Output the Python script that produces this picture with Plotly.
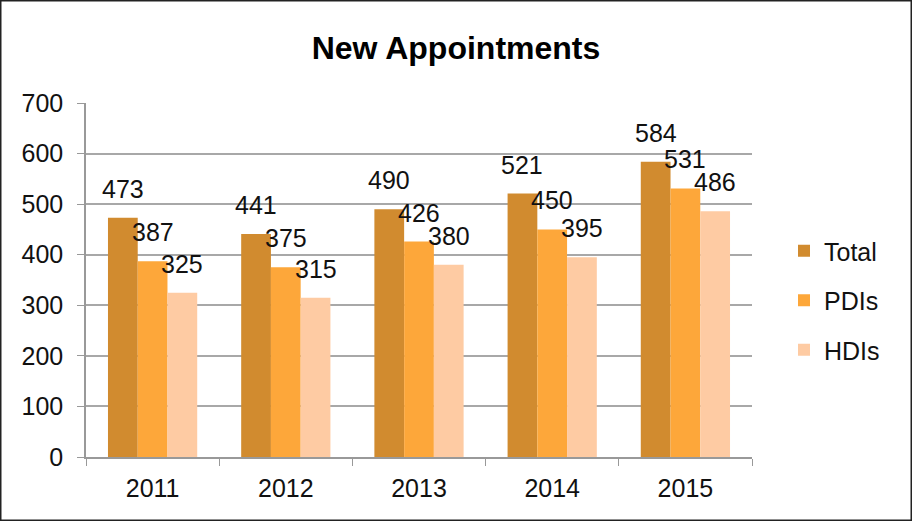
import plotly.graph_objects as go

years = ["2011", "2012", "2013", "2014", "2015"]
series_names = ["Total", "PDIs", "HDIs"]
total = [473, 441, 490, 521, 584]
pdis = [387, 375, 426, 450, 531]
hdis = [325, 315, 380, 395, 486]
colors = ["#D18B2F", "#FDA73A", "#FECBA3"]
y_ticks = [0, 100, 200, 300, 400, 500, 600, 700]

W, H = 912, 521
ml, mr, mt, mb = 86, 160, 103, 64
pw = W - ml - mr
ph = H - mt - mb
bargap = 0.33
bar_px = pw / len(years) * (1 - bargap) / len(series_names)

FONT = "Liberation Sans, Arial, Helvetica, sans-serif"

fig = go.Figure()
all_vals = [total, pdis, hdis]
for i, (name, vals, col) in enumerate(zip(series_names, all_vals, colors)):
    fig.add_trace(go.Bar(x=years, y=vals, name=name, marker=dict(color=col, line=dict(width=0)),
                         legendgroup=name))

annotations = []
for i, vals in enumerate(all_vals):
    for k, v in enumerate(vals):
        annotations.append(dict(x=k, y=v, xref="x", yref="y", text=str(v), showarrow=False,
                                xanchor="center", yanchor="bottom",
                                xshift=(i - 1) * bar_px, yshift=13,
                                font=dict(size=25, color="#111", family=FONT)))

fig.update_layout(
    width=W, height=H,
    margin=dict(l=ml, r=mr, t=mt, b=mb, autoexpand=False),
    paper_bgcolor="white", plot_bgcolor="white",
    barmode="group", bargap=bargap, bargroupgap=0,
    title=dict(text="<b>New Appointments</b>", x=0.5, xref="container", xanchor="center",
               y=1 - 48 / H, yref="container", yanchor="middle",
               font=dict(size=32, color="#000", family=FONT)),
    font=dict(family=FONT, size=24, color="#111"),
    legend=dict(x=(784 - ml) / pw, xanchor="left", y=(H - mb - 228) / ph, yanchor="top",
                font=dict(size=25, color="#111", family=FONT), tracegroupgap=14,
                bgcolor="rgba(0,0,0,0)", itemsizing="constant"),
    annotations=annotations,
    showlegend=True,
)
fig.update_xaxes(type="category", range=[-0.5, len(years) - 0.5], automargin=False,
                 showline=True, linecolor="#999", linewidth=1.5,
                 ticks="outside", tickson="boundaries", ticklen=7, tickcolor="#999",
                 tickangle=0, tickfont=dict(size=25, color="#111"), ticklabelstandoff=8,
                 showgrid=False)
fig.update_yaxes(range=[0, 700], tickvals=y_ticks, automargin=False,
                 showline=True, linecolor="#999", linewidth=1.5,
                 ticks="outside", ticklen=7, tickcolor="#999", gridcolor="#A8A8A8", gridwidth=1.5,
                 tickfont=dict(size=25, color="#111"), ticklabelstandoff=9, zeroline=False)

fig.add_shape(type="rect", xref="paper", yref="paper",
              x0=-ml / pw, x1=(W - ml) / pw, y0=-mb / ph, y1=(H - mb) / ph,
              line=dict(color="#222", width=3), fillcolor="rgba(0,0,0,0)", layer="above")

fig.write_html("out.html", config={"displayModeBar": False},
               post_script="document.body.style.margin='0';document.body.style.overflow='hidden';")
